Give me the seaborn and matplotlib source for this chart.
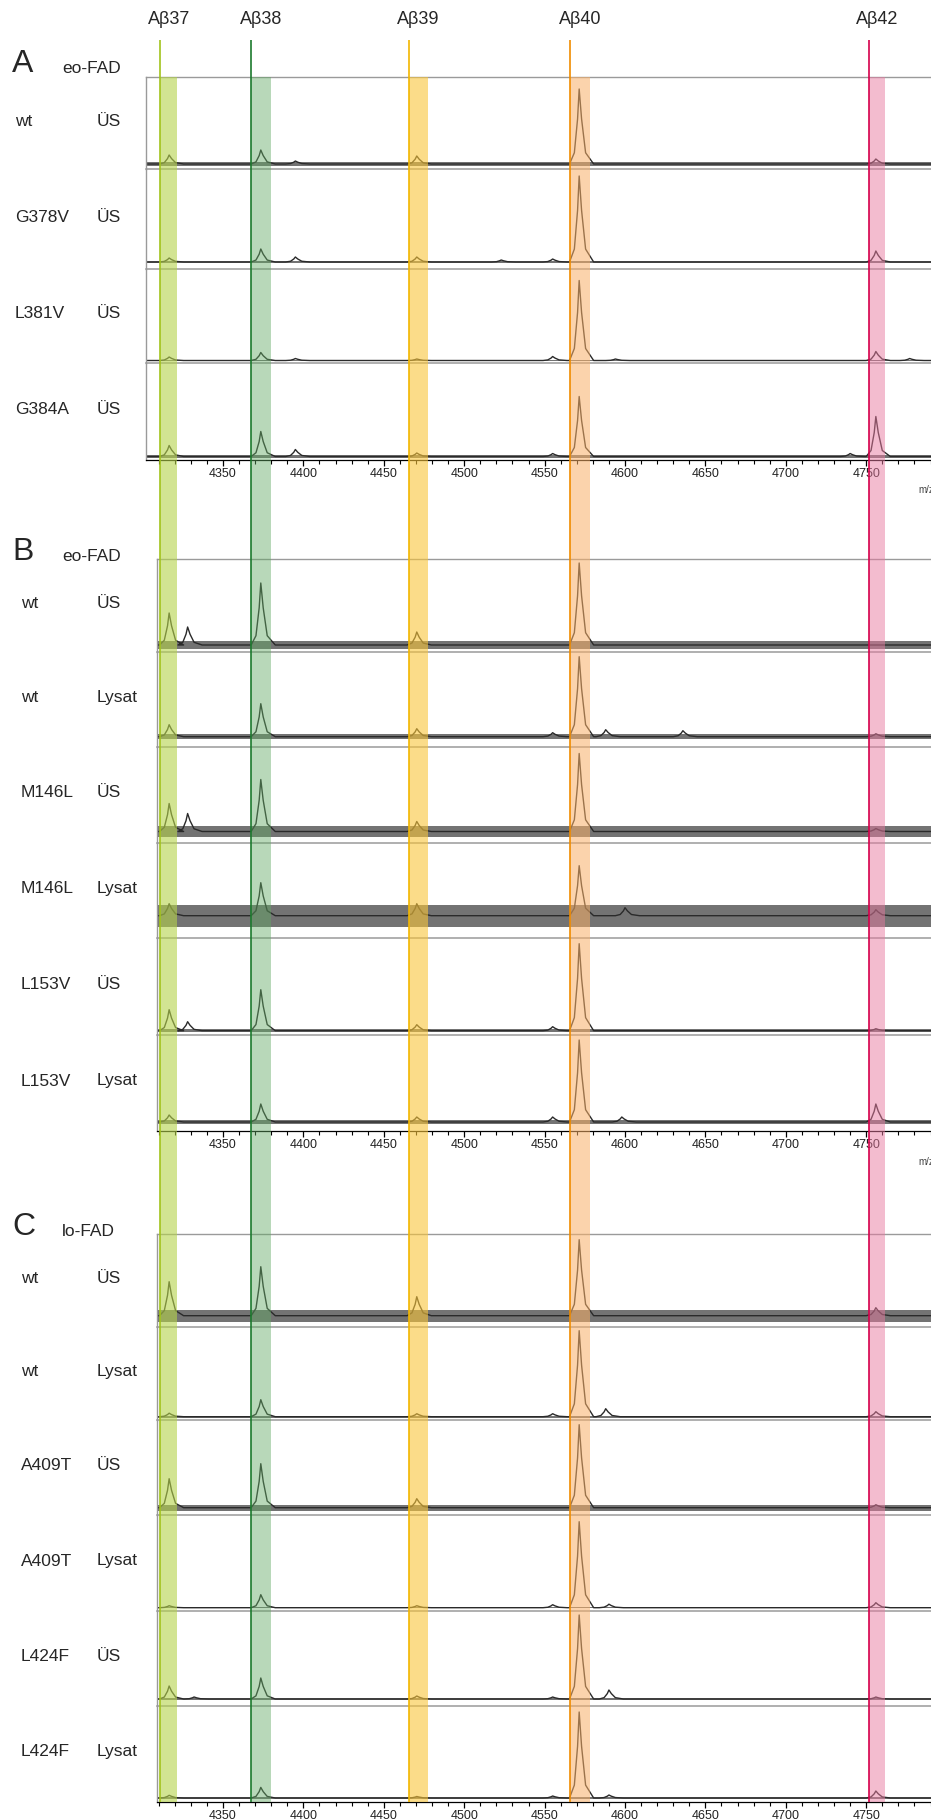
import numpy as np
import pandas as pd
import seaborn as sns
import matplotlib.pyplot as plt
from matplotlib.ticker import MultipleLocator

sns.set_theme(style="white")
plt.rcParams['font.family'] = ['Liberation Sans', 'DejaVu Sans']

W, H = 931, 1820

# Abeta species: apex m/z and the marked window
species = ['Aβ37', 'Aβ38', 'Aβ39', 'Aβ40', 'Aβ42']
peak_mz = [4316.5, 4373.5, 4470.5, 4571.5, 4756]
window_lo = [4311, 4367.5, 4465.5, 4566, 4752]
window_hi = [4321.5, 4380, 4477.5, 4578, 4762]
line_colors = ['#a2c31c', '#1c7a2e', '#f2b600', '#f08c00', '#d6004c']
band_colors = ['#b5d34a', '#62a964', '#f9c53a', '#f9b068', '#e87aa0']
band_alpha = [0.6, 0.45, 0.6, 0.55, 0.5]

# peak shape template (offset in Da, fraction of height)
profile_dx = [-6, -3, -1, 0, 1.5, 4, 9]
profile_rel = [0, 0.15, 0.6, 1, 0.6, 0.15, 0]

# Panel A: eo-FAD, supernatants
a_mutant = ['wt', 'G378V', 'L381V', 'G384A']
a_sample = ['ÜS', 'ÜS', 'ÜS', 'ÜS']
a_baseline = [5, 7, 2.5, 3.5]
a_noise = [2.0, 1.3, 0.5, 1.3]
a_heights = [[9, 14, 8, 75, 5],
             [4, 13, 5, 86, 11],
             [3.5, 8, 1.5, 80, 9],
             [11, 25, 3.5, 60, 40]]
a_minor = [[(4395, 3)],
           [(4395, 5), (4523, 2), (4555, 3)],
           [(4395, 2), (4555, 4), (4594, 1.5), (4777, 2)],
           [(4395, 7), (4555, 3), (4740, 3)]]

# Panel B: eo-FAD, supernatant and lysate
b_mutant = ['wt', 'wt', 'M146L', 'M146L', 'L153V', 'L153V']
b_sample = ['ÜS', 'Lysat', 'ÜS', 'Lysat', 'ÜS', 'Lysat']
b_baseline = [7, 10, 11.5, 22, 4.3, 9]
b_noise = [4, 2.5, 5.5, 11, 1.3, 2]
b_heights = [[32, 62, 13, 82, 0],
             [12, 33, 8, 80, 3],
             [28, 52, 10, 78, 3],
             [12, 33, 12, 50, 6],
             [21, 41, 6, 87, 2],
             [7, 18, 5, 82, 18]]
b_minor = [[(4328, 18)],
           [(4555, 4), (4588, 7), (4636, 6)],
           [(4328, 18)],
           [(4600, 8)],
           [(4328, 9), (4555, 4)],
           [(4555, 5), (4598, 5)]]

# Panel C: lo-FAD, supernatant and lysate
c_mutant = ['wt', 'wt', 'A409T', 'A409T', 'L424F', 'L424F']
c_sample = ['ÜS', 'Lysat', 'ÜS', 'Lysat', 'ÜS', 'Lysat']
c_baseline = [11, 3.3, 7.3, 3.3, 6.7, 4]
c_noise = [6, 0.9, 3, 0.6, 1.3, 0.7]
c_heights = [[34, 49, 19, 76, 8],
             [3.5, 17, 3, 86, 5],
             [29, 44, 9, 83, 3],
             [2, 13, 2, 86, 5],
             [13, 21, 3, 84, 2],
             [2.7, 10.6, 1.5, 86, 7]]
c_minor = [[],
           [(4555, 3), (4588, 8)],
           [],
           [(4555, 3), (4590, 3.5)],
           [(4332, 2), (4555, 2), (4590, 9)],
           [(4555, 2), (4590, 3)]]

tick_values = [4350, 4400, 4450, 4500, 4550, 4600, 4650, 4700, 4750]

# layout (pixels)
PX_4350 = 223.0
PX_PER_DA = 1.608


def mz_at(px):
    return 4350 + (px - PX_4350) / PX_PER_DA


def fx(px):
    return px / W


def fy(py):
    return 1 - py / H


def trace_frame(base, heights, minor, xmin, xmax):
    peaks = [(c, h) for c, h in zip(peak_mz, heights) if h > 0] + list(minor)
    peaks.sort()
    xs, ys = [xmin], [base]
    for c, h in peaks:
        for dx, r in zip(profile_dx, profile_rel):
            xs.append(c + dx)
            ys.append(base + r * h)
    xs.append(xmax)
    ys.append(base)
    return pd.DataFrame({'mz': xs, 'intensity': ys})


fig = plt.figure(figsize=(W / 100, H / 100), dpi=100)
GRAY = '#9a9a9a'


def draw_panel(letter, group, left_px, edges, mutants, samples, bases, noises,
               heights, minors, head_base, mz_y, lab_x1):
    fig.text(fx(12), fy(head_base), letter, fontsize=23, va='baseline', ha='left')
    fig.text(fx(62), fy(head_base + 1), group, fontsize=12.5, va='baseline', ha='left')
    xmin, xmax = mz_at(left_px), mz_at(W)
    n = len(mutants)
    for i in range(n):
        top, bot = edges[i], edges[i + 1]
        ax = fig.add_axes([fx(left_px), fy(bot), fx(W - left_px), (bot - top) / H])
        ax.set_xlim(xmin, xmax)
        ax.set_ylim(0, bot - top)
        ax.fill_between([xmin, xmax], bases[i] - noises[i], bases[i] + noises[i],
                        color='#383838', alpha=0.7, lw=0)
        df = trace_frame(bases[i], heights[i], minors[i], xmin, xmax)
        sns.lineplot(data=df, x='mz', y='intensity', ax=ax, color='#2a2a2a',
                     lw=1.0, estimator=None, sort=False)
        ax.set_xlabel('')
        ax.set_ylabel('')
        ax.set_yticks([])
        ax.patch.set_alpha(0)
        ax.spines['right'].set_visible(False)
        ax.spines['top'].set_visible(i == 0)
        ax.spines['top'].set_color(GRAY)
        ax.spines['left'].set_color(GRAY)
        ax.spines['left'].set_linewidth(1.0)
        ax.spines['top'].set_linewidth(1.0)
        last = i == n - 1
        ax.spines['bottom'].set_color('black' if last else GRAY)
        ax.spines['bottom'].set_linewidth(0.9 if last else 1.1)
        if last:
            ax.set_xticks(tick_values)
            ax.xaxis.set_minor_locator(MultipleLocator(10))
            ax.tick_params(axis='x', which='both', bottom=True, direction='out',
                           colors='black', labelcolor='#222222', labelsize=9, pad=2)
            ax.tick_params(axis='x', which='major', length=4, width=0.9)
            ax.tick_params(axis='x', which='minor', length=3, width=0.8)
        else:
            ax.set_xticks([])
            ax.tick_params(axis='x', which='both', bottom=False, labelbottom=False)
        mid = (top + bot) / 2 - 2
        fig.text(fx(lab_x1[0]), fy(mid), mutants[i], fontsize=12.5, va='center', ha='left')
        fig.text(fx(lab_x1[1]), fy(mid), samples[i], fontsize=12.5, va='center', ha='left')
    if mz_y is not None:
        fig.text(fx(918), fy(mz_y), 'm/z', fontsize=7, color='#444444', va='center', ha='left')


draw_panel('A', 'eo-FAD', 145.5, [77, 169, 269, 363, 460],
           a_mutant, a_sample, a_baseline, a_noise, a_heights, a_minor,
           72, 490, (15, 97))
draw_panel('B', 'eo-FAD', 157, [559, 652, 746.7, 843, 937.7, 1035, 1131],
           b_mutant, b_sample, b_baseline, b_noise, b_heights, b_minor,
           560, 1162, (21, 97))
draw_panel('C', 'lo-FAD', 157, [1234, 1326.7, 1420, 1515, 1611, 1705.7, 1802],
           c_mutant, c_sample, c_baseline, c_noise, c_heights, c_minor,
           1235, None, (21, 97))

# colored windows spanning all panels
ov = fig.add_axes([0, 0, 1, 1], zorder=10)
ov.set_xlim(mz_at(0), mz_at(W))
ov.set_ylim(H, 0)
ov.axis('off')
ov.patch.set_alpha(0)
for name, lo, hi, lc, bc, al in zip(species, window_lo, window_hi,
                                    line_colors, band_colors, band_alpha):
    ov.fill_betweenx([77, 1802], lo, hi, color=bc, alpha=al, lw=0)
    ov.vlines(lo, 40, 1802, color=lc, lw=1.2)
    ov.text((lo + hi) / 2, 20, name, fontsize=13, ha='center', va='center')

fig.savefig('out.png', dpi=100)
